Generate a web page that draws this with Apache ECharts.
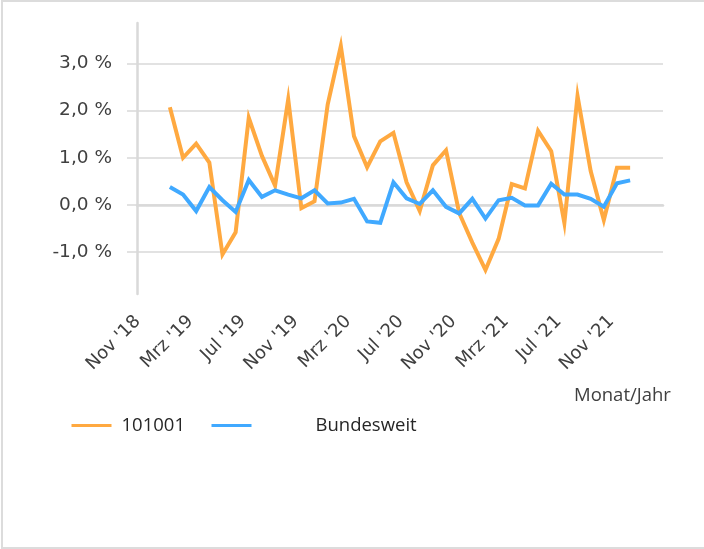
<!DOCTYPE html>
<html>
<head>
<meta charset="utf-8">
<script src="https://cdn.jsdelivr.net/npm/echarts@6/dist/echarts.min.js"></script>
<style>
  html, body { margin: 0; padding: 0; background: #fff; }
  #frame { position: absolute; left: 1px; top: 0px; width: 760px; height: 545px; border: 2px solid #dcdcdc; }
  #chart { position: absolute; left: 0; top: 0; width: 704px; height: 549px; }
</style>
</head>
<body>
<div id="frame"></div>
<div id="chart"></div>
<script>
// Axis categories (Nov '18 .. Feb '22)
const categories = [
  "Nov '18", "Dez '18",
  "Jan '19", "Feb '19", "Mrz '19", "Apr '19", "Mai '19", "Jun '19", "Jul '19", "Aug '19", "Sep '19", "Okt '19", "Nov '19", "Dez '19",
  "Jan '20", "Feb '20", "Mrz '20", "Apr '20", "Mai '20", "Jun '20", "Jul '20", "Aug '20", "Sep '20", "Okt '20", "Nov '20", "Dez '20",
  "Jan '21", "Feb '21", "Mrz '21", "Apr '21", "Mai '21", "Jun '21", "Jul '21", "Aug '21", "Sep '21", "Okt '21", "Nov '21", "Dez '21",
  "Jan '22", "Feb '22"
];
// Months that carry data (Jan '19 .. Dez '21)
const dataMonths = categories.slice(2, 38);
const series101001 = [2.07, 1.00, 1.30, 0.90, -1.05, -0.58, 1.85, 1.04, 0.41, 2.24, -0.07, 0.08,
                      2.13, 3.37, 1.46, 0.80, 1.35, 1.53, 0.48, -0.13, 0.84, 1.16, -0.17, -0.80,
                      -1.38, -0.72, 0.44, 0.35, 1.57, 1.14, -0.38, 2.31, 0.72, -0.32, 0.79, 0.79];
const seriesBundesweit = [0.38, 0.22, -0.13, 0.38, 0.10, -0.15, 0.53, 0.17, 0.31, 0.22, 0.14, 0.31,
                          0.03, 0.05, 0.13, -0.35, -0.38, 0.48, 0.14, 0.02, 0.31, -0.04, -0.18, 0.13,
                          -0.29, 0.10, 0.15, -0.01, -0.01, 0.45, 0.22, 0.22, 0.13, -0.04, 0.46, 0.52];
const yTicks = [-1, 0, 1, 2, 3];
const seriesNames = ['101001', 'Bundesweit'];
const xAxisTitle = 'Monat/Jahr';

const pair = (vals) => vals.map((v, i) => [dataMonths[i], v]);
const fmtPct = (v) => v.toFixed(1).replace('.', ',') + ' %';

const chart = echarts.init(document.getElementById('chart'), null, { renderer: 'canvas' });
const legendFont = { fontFamily: 'Open Sans', fontSize: 18.5, color: '#262626', lineHeight: 22 };
const xLabelFont = { fontFamily: 'DejaVu Sans', fontSize: 18, color: '#404040' };
chart.setOption({
  animation: false,
  backgroundColor: 'transparent',
  title: {
    text: xAxisTitle, left: 574, top: 385, padding: 0,
    textStyle: { fontFamily: 'Open Sans', fontSize: 18.5, fontWeight: 'normal', color: '#404040', lineHeight: 22 }
  },
  grid: { left: 137, right: 41, top: 23, bottom: 255, containLabel: false },
  legend: [
    {
      data: [seriesNames[0]], left: 71.5, top: 414.5, padding: 0,
      icon: 'rect', itemWidth: 40, itemHeight: 3, selectedMode: false,
      formatter: (n) => '{a|' + n + '}',
      textStyle: Object.assign({ rich: { a: Object.assign({ padding: [0, 0, 0, 5] }, legendFont) } }, legendFont)
    },
    {
      data: [seriesNames[1]], left: 211.5, top: 414.5, padding: 0,
      icon: 'rect', itemWidth: 40, itemHeight: 3, selectedMode: false,
      formatter: (n) => '{a|' + n + '}',
      textStyle: Object.assign({ rich: { a: Object.assign({ padding: [0, 0, 0, 59] }, legendFont) } }, legendFont)
    }
  ],
  xAxis: {
    type: 'category',
    data: categories,
    boundaryGap: true,
    axisLine: { show: true, lineStyle: { color: '#d9d9d9', width: 2.5 } },
    axisTick: { show: false },
    splitLine: { show: false },
    axisLabel: Object.assign({
      interval: 3, rotate: 45, margin: 19,
      formatter: (v) => '{a|' + v + '}',
      rich: { a: Object.assign({ padding: [0, 8, 0, 0] }, xLabelFont) }
    }, xLabelFont)
  },
  yAxis: {
    type: 'value',
    min: -1.89, max: 3.86,
    axisLine: { show: true, lineStyle: { color: '#d9d9d9', width: 2.5 } },
    axisTick: { show: true, length: 10, customValues: yTicks, lineStyle: { color: '#d9d9d9', width: 1.5 } },
    splitLine: { show: true, lineStyle: { color: '#d9d9d9', width: 1.5 } },
    axisLabel: {
      customValues: yTicks, margin: 25,
      formatter: fmtPct,
      fontFamily: 'DejaVu Sans', fontSize: 18.5, color: '#404040'
    }
  },
  series: [
    {
      name: seriesNames[0], type: 'line', data: pair(series101001),
      showSymbol: false, symbol: 'none', color: '#FFA940',
      lineStyle: { width: 4, color: '#FFA940', join: 'miter' }
    },
    {
      name: seriesNames[1], type: 'line', data: pair(seriesBundesweit),
      showSymbol: false, symbol: 'none', color: '#40A9FF',
      lineStyle: { width: 4, color: '#40A9FF', join: 'miter' }
    }
  ]
});
</script>
</body>
</html>
